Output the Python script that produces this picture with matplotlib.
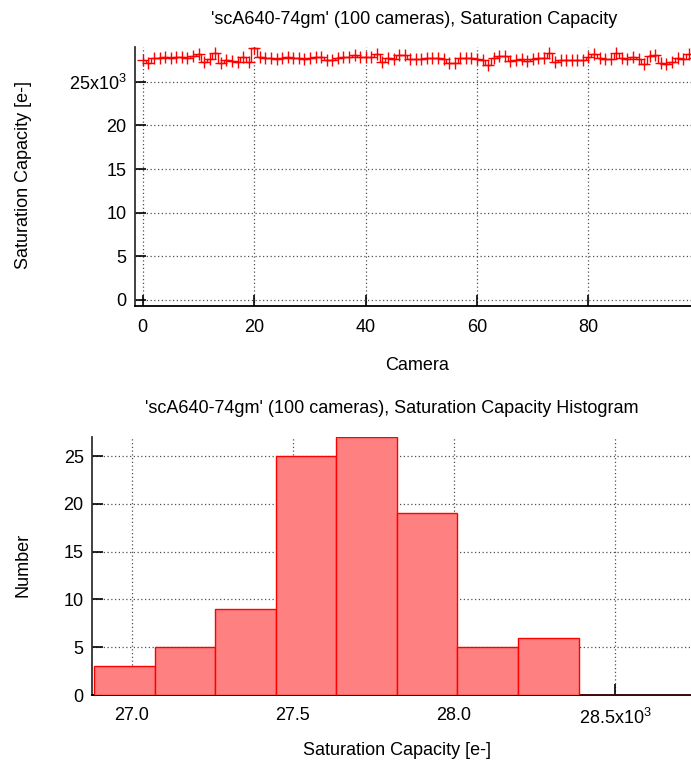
import matplotlib
matplotlib.use('Agg')
import matplotlib.pyplot as plt
from matplotlib.ticker import FuncFormatter
import numpy as np

RED       = '#FF0000'
LIGHT_RED = '#FF8080'
GRID_COL  = '#505050'

plt.rcParams['font.family'] = ['Liberation Sans', 'DejaVu Sans']
plt.rcParams['font.size'] = 13
plt.rcParams['mathtext.fontset'] = 'custom'
plt.rcParams['mathtext.rm'] = 'Liberation Sans'
plt.rcParams['mathtext.default'] = 'regular'

# saturation capacity per camera, in units of 10^3 e-
camera = np.arange(100)
sat_cap = [27.47, 27.13, 27.70, 27.78, 27.85, 27.78, 27.89, 27.90, 27.70, 27.97,
           28.22, 27.30, 27.59, 28.28, 27.22, 27.51, 27.39, 27.29, 27.89, 27.33,
           28.85, 27.84, 27.78, 27.71, 27.66, 27.72, 27.90, 27.77, 27.79, 27.58,
           27.70, 27.88, 27.91, 27.55, 27.47, 27.78, 27.84, 27.89, 28.08, 27.88,
           27.90, 27.87, 28.24, 27.28, 27.70, 27.67, 28.08, 28.05, 27.61, 27.60,
           27.62, 27.71, 27.77, 27.79, 27.61, 27.20, 27.18, 27.70, 27.77, 27.72,
           27.60, 27.52, 26.92, 27.78, 27.99, 27.98, 27.38, 27.48, 27.61, 27.39,
           27.62, 27.79, 27.70, 28.28, 27.31, 27.52, 27.53, 27.51, 27.52, 27.47,
           27.89, 28.16, 27.77, 27.60, 27.61, 28.28, 27.70, 27.61, 27.84, 27.60,
           27.02, 27.99, 28.08, 27.21, 27.00, 27.32, 27.78, 27.61, 28.25, 27.70]

# histogram of the same values
hist_start = 26.883
hist_width = 0.188
hist_counts = [3, 5, 9, 25, 27, 19, 5, 6, 0, 0]

top_yticks = [0, 5, 10, 15, 20, 25]
top_xticks = [0, 20, 40, 60, 80]
bot_xticks = [27.0, 27.5, 28.0, 28.5]
bot_yticks = [0, 5, 10, 15, 20, 25]

title_top = "'scA640-74gm' (100 cameras), Saturation Capacity"
title_bot = "'scA640-74gm' (100 cameras), Saturation Capacity Histogram"


def style(ax):
    for s in ('top', 'right'):
        ax.spines[s].set_visible(False)
    ax.spines['left'].set_color('#333333')
    ax.spines['left'].set_linewidth(1.3)
    ax.spines['bottom'].set_color('black')
    ax.spines['bottom'].set_linewidth(1.3)
    ax.tick_params(direction='in', length=8, width=1.2, colors='black')
    ax.tick_params(axis='x', pad=9)
    ax.tick_params(axis='y', pad=6)
    ax.grid(True, color=GRID_COL, linestyle=(0, (1, 2)), linewidth=0.9)
    ax.set_axisbelow(True)


W, H = 691, 765
fig = plt.figure(figsize=(W / 100, H / 100), dpi=100)

# top: per-camera values
ax1 = fig.add_axes((135 / W, 1 - 306 / H, 556 / W, 259 / H))
style(ax1)
ax1.plot(camera, sat_cap, color=RED, lw=1, drawstyle='steps-mid',
         marker='+', ms=9, mew=1)
ax1.set_xlim(-1.4, 98.4)
ax1.set_ylim(-0.7, 29.0)
ax1.set_xticks(top_xticks)
ax1.set_yticks(top_yticks)
ax1.yaxis.set_major_formatter(FuncFormatter(
    lambda v, p: '25x10$^3$' if v == 25 else f'{v:g}'))
ax1.set_ylabel('Saturation Capacity [e-]')
ax1.yaxis.set_label_coords(-0.186, 0.506)
ax1.set_xlabel('Camera')
ax1.xaxis.set_label_coords(0.507, -0.195)
ax1.text(0.502, 1.108, title_top, transform=ax1.transAxes,
         ha='center', va='center')

# bottom: histogram
ax2 = fig.add_axes((92 / W, 1 - 695 / H, 599 / W, 258 / H))
style(ax2)
edges = hist_start + hist_width * np.arange(len(hist_counts))
ax2.bar(edges, hist_counts, width=hist_width, align='edge',
        color=LIGHT_RED, edgecolor=RED, linewidth=1, zorder=3)
ax2.set_xlim(26.877, 28.736)
ax2.set_ylim(0, 27)
ax2.set_xticks(bot_xticks)
ax2.set_yticks(bot_yticks)
ax2.xaxis.set_major_formatter(FuncFormatter(
    lambda v, p: '28.5x10$^3$' if abs(v - 28.5) < 1e-6 else f'{v:.1f}'))
ax2.set_ylabel('Number')
ax2.yaxis.set_label_coords(-0.101, 0.504)
ax2.set_xlabel('Saturation Capacity [e-]')
ax2.xaxis.set_label_coords(0.51, -0.184)
ax2.text(0.5, 1.112, title_bot, transform=ax2.transAxes,
         ha='center', va='center')

fig.savefig('out.png', dpi=100)
